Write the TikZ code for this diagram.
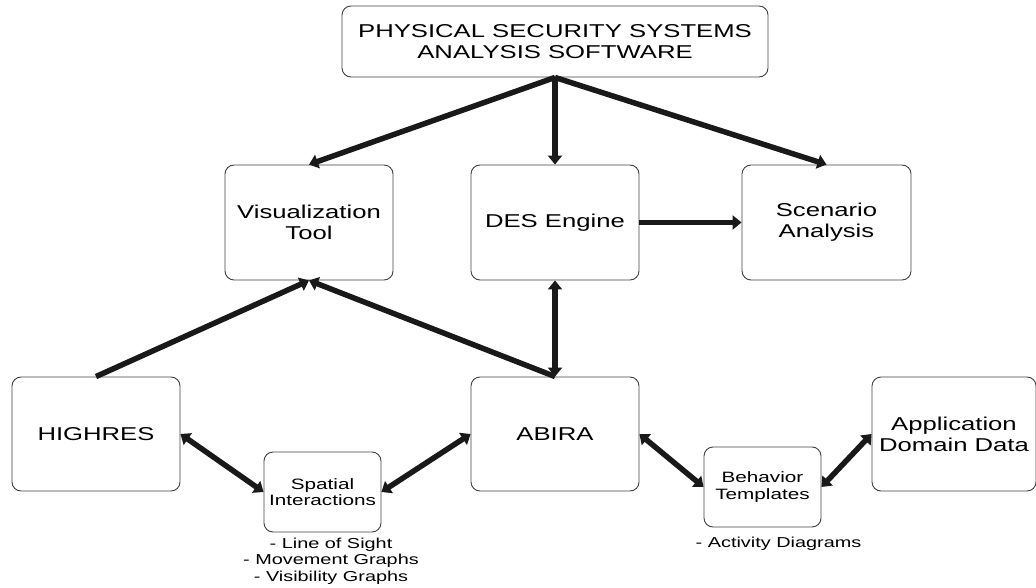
\documentclass[tikz,border=0pt]{standalone}
\usepackage{fontspec}
\setmainfont{Liberation Sans}[FakeStretch=1.38]
\usetikzlibrary{arrows.meta}

\tikzset{
  box/.style={draw=black!75, line width=0.9pt, rounded corners=9pt,
    align=center, inner sep=0pt, font=\fontsize{18.6}{21}\selectfont},
  smallbox/.style={box, font=\fontsize{15}{16.5}\selectfont},
  note/.style={align=center, inner sep=0pt, font=\fontsize{14.4}{16.5}\selectfont},
  link/.style={line width=5.5pt, draw=black!90},
  onehead/.style={link, -{Triangle[length=9pt,width=14pt]}},
  twohead/.style={link, {Triangle[length=9pt,width=14pt]}-{Triangle[length=9pt,width=14pt]}},
}

\begin{document}
\begin{tikzpicture}[x=1pt, y=-1pt]
  \useasboundingbox (0,0) rectangle (1036,588);

  % top level
  \node[box, minimum width=426pt, minimum height=71pt] (top) at (555,41.5)
    {PHYSICAL SECURITY SYSTEMS\\ANALYSIS SOFTWARE};

  % middle row
  \node[box, minimum width=168pt, minimum height=115pt] (vis) at (309,222.5)
    {Visualization\\Tool};
  \node[box, minimum width=168pt, minimum height=115pt] (des) at (555,222.5)
    {DES Engine};
  \node[box, minimum width=169pt, minimum height=115pt] (scen) at (826.5,222.5)
    {Scenario\\Analysis};

  % bottom row
  \node[box, minimum width=168pt, minimum height=114pt] (high) at (96,434)
    {HIGHRES};
  \node[box, minimum width=168pt, minimum height=114pt] (abira) at (555,434)
    {ABIRA};
  \node[box, minimum width=164pt, minimum height=114pt] (app) at (954,434)
    {Application\\Domain Data};

  % small intermediate boxes
  \node[smallbox, minimum width=117pt, minimum height=80pt] (spat) at (322.5,492)
    {Spatial\\Interactions};
  \node[smallbox, minimum width=117pt, minimum height=80pt] (beh) at (762.5,487)
    {Behavior\\Templates};

  % notes below the small boxes
  \node[note] (spatnote) at (331,561)
    {- Line of Sight\\- Movement Graphs\\- Visibility Graphs};
  \node[note] (behnote) at (778.5,544) {- Activity Diagrams};

  % connectors
  \draw[onehead] (top.south) -- (vis.north);
  \draw[onehead] (top.south) -- (des.north);
  \draw[onehead] (top.south) -- (scen.north);
  \draw[onehead] (des.east) -- (scen.west);
  \draw[onehead] (high.north) -- (vis.south);
  \draw[onehead] (abira.north) -- (vis.south);
  \draw[twohead] (des.south) -- (abira.north);
  \draw[twohead] (high.east) -- (spat.west);
  \draw[twohead] (spat.east) -- (abira.west);
  \draw[twohead] (abira.east) -- (beh.west);
  \draw[twohead] (beh.east) -- (app.west);
\end{tikzpicture}
\end{document}
